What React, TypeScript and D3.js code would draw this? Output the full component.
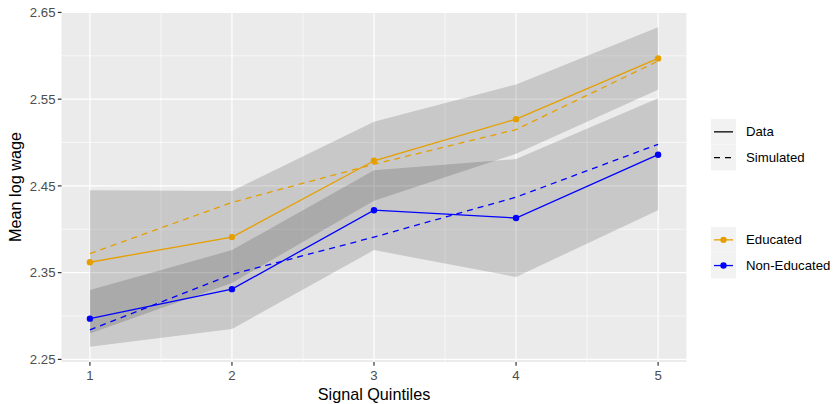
import React from "react";
import * as d3 from "d3";

const quintiles = [1, 2, 3, 4, 5];
const eduData = [2.362, 2.391, 2.479, 2.527, 2.597];
const eduSim = [2.372, 2.431, 2.475, 2.515, 2.594];
const nonData = [2.297, 2.331, 2.422, 2.413, 2.486];
const nonSim = [2.284, 2.348, 2.391, 2.437, 2.498];
const eduLo = [2.28, 2.338, 2.433, 2.487, 2.561];
const eduHi = [2.445, 2.444, 2.524, 2.567, 2.633];
const nonLo = [2.2645, 2.285, 2.376, 2.345, 2.422];
const nonHi = [2.33, 2.376, 2.468, 2.481, 2.551];

const yTicks = [2.25, 2.35, 2.45, 2.55, 2.65];
const yMinor = [2.3, 2.4, 2.5, 2.6];
const xMinor = [1.5, 2.5, 3.5, 4.5];

const ORANGE = "#E69F00";
const BLUE = "#0000FF";
const FONT = "'Liberation Sans', Arial, sans-serif";
const DASH = "6,5";
const LW = 1.3;

export default function App() {
  const width = 833;
  const height = 404;
  const left = 61.5, right = 686.5, top = 12, bottom = 362;

  const x = d3.scaleLinear().domain([0.8, 5.2]).range([left, right]);
  const y = d3.scaleLinear().domain([2.247, 2.6505]).range([bottom, top]);

  const line = d3
    .line<number>()
    .x((_, i) => x(quintiles[i]))
    .y((d) => y(d));

  const ribbon = (lo: number[], hi: number[]) =>
    d3
      .area<number>()
      .x((d) => x(d))
      .y0((_, i) => y(lo[i]))
      .y1((_, i) => y(hi[i]))(quintiles) as string;

  const series = [
    { vals: eduData, color: ORANGE, dash: null, pts: true },
    { vals: eduSim, color: ORANGE, dash: DASH, pts: false },
    { vals: nonData, color: BLUE, dash: null, pts: true },
    { vals: nonSim, color: BLUE, dash: DASH, pts: false },
  ];

  const keyX = 711, keyW = 25, keyH = 25.7;

  return (
    <svg
      width={width}
      height={height}
      style={{ position: "absolute", left: 0, top: 0, background: "#fff" }}
      fontFamily={FONT}
    >
      <rect x={left} y={top} width={right - left} height={bottom - top} fill="#EBEBEB" />
      {yMinor.map((t) => (
        <line key={"ym" + t} x1={left} x2={right} y1={y(t)} y2={y(t)} stroke="#fff" strokeWidth={0.6} />
      ))}
      {xMinor.map((t) => (
        <line key={"xm" + t} y1={top} y2={bottom} x1={x(t)} x2={x(t)} stroke="#fff" strokeWidth={0.6} />
      ))}
      {yTicks.map((t) => (
        <line key={"yg" + t} x1={left} x2={right} y1={y(t)} y2={y(t)} stroke="#fff" strokeWidth={1.2} />
      ))}
      {quintiles.map((t) => (
        <line key={"xg" + t} y1={top} y2={bottom} x1={x(t)} x2={x(t)} stroke="#fff" strokeWidth={1.2} />
      ))}

      <path d={ribbon(eduLo, eduHi)} fill="#000" fillOpacity={0.15} />
      <path d={ribbon(nonLo, nonHi)} fill="#000" fillOpacity={0.15} />

      {series.map((s, i) => (
        <path
          key={"s" + i}
          d={line(s.vals) as string}
          fill="none"
          stroke={s.color}
          strokeWidth={LW}
          strokeDasharray={s.dash ?? undefined}
        />
      ))}
      {series
        .filter((s) => s.pts)
        .map((s, i) =>
          s.vals.map((v, j) => (
            <circle key={"p" + i + "-" + j} cx={x(quintiles[j])} cy={y(v)} r={3.2} fill={s.color} />
          ))
        )}

      {/* y axis */}
      {yTicks.map((t) => (
        <g key={"yt" + t}>
          <line x1={left - 3.7} x2={left} y1={y(t)} y2={y(t)} stroke="#333" strokeWidth={1.2} />
          <text x={left - 6} y={y(t)} dy="0.35em" textAnchor="end" fontSize={13.2} fill="#4D4D4D">
            {t.toFixed(2)}
          </text>
        </g>
      ))}
      {quintiles.map((t) => (
        <g key={"xt" + t}>
          <line x1={x(t)} x2={x(t)} y1={bottom} y2={bottom + 3.7} stroke="#333" strokeWidth={1.2} />
          <text x={x(t)} y={bottom + 17.5} textAnchor="middle" fontSize={13.2} fill="#4D4D4D">
            {t}
          </text>
        </g>
      ))}
      <text x={(left + right) / 2} y={399.5} textAnchor="middle" fontSize={16.2} fill="#000">
        Signal Quintiles
      </text>
      <text
        transform={`translate(21,${(top + bottom) / 2}) rotate(-90)`}
        textAnchor="middle"
        fontSize={16.2}
        fill="#000"
      >
        Mean log wage
      </text>

      {/* linetype legend */}
      {[
        { label: "Data", dash: null },
        { label: "Simulated", dash: DASH },
      ].map((k, i) => {
        const ky = 119 + i * keyH;
        return (
          <g key={"lt" + i}>
            <rect x={keyX} y={ky} width={keyW} height={keyH} fill="#F2F2F2" />
            <line
              x1={keyX + 3}
              x2={keyX + keyW - 3}
              y1={ky + keyH / 2}
              y2={ky + keyH / 2}
              stroke="#000"
              strokeWidth={LW}
              strokeDasharray={k.dash ?? undefined}
            />
            <text x={keyX + keyW + 10} y={ky + keyH / 2} dy="0.35em" fontSize={13.2} fill="#000">
              {k.label}
            </text>
          </g>
        );
      })}

      {/* colour legend */}
      {[
        { label: "Educated", color: ORANGE },
        { label: "Non-Educated", color: BLUE },
      ].map((k, i) => {
        const ky = 227 + i * keyH;
        return (
          <g key={"cl" + i}>
            <rect x={keyX} y={ky} width={keyW} height={keyH} fill="#F2F2F2" />
            <line
              x1={keyX + 3}
              x2={keyX + keyW - 3}
              y1={ky + keyH / 2}
              y2={ky + keyH / 2}
              stroke={k.color}
              strokeWidth={LW}
            />
            <circle cx={keyX + keyW / 2} cy={ky + keyH / 2} r={3.2} fill={k.color} />
            <text x={keyX + keyW + 10} y={ky + keyH / 2} dy="0.35em" fontSize={13.2} fill="#000">
              {k.label}
            </text>
          </g>
        );
      })}
    </svg>
  );
}
